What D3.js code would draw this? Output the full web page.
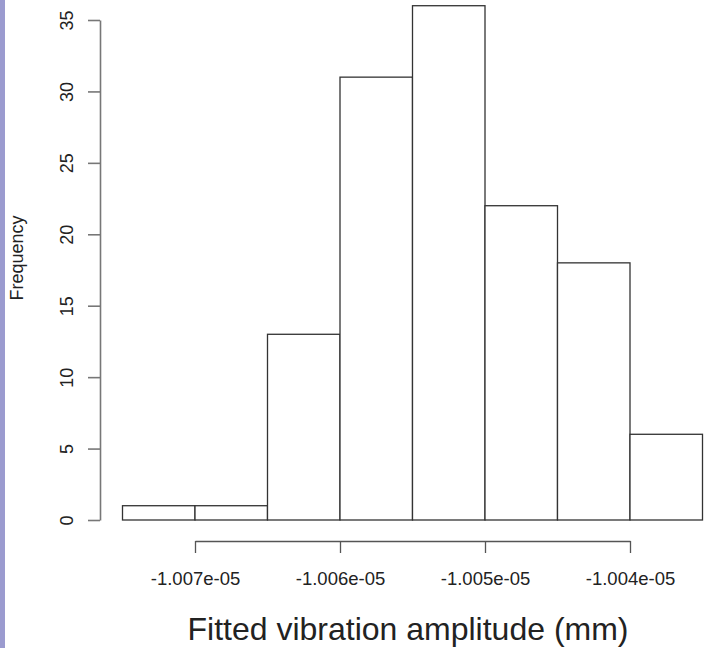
<!DOCTYPE html>
<html>
<head>
<meta charset="utf-8">
<script src="https://cdn.jsdelivr.net/npm/d3@7"></script>
<style>
  body { margin: 0; background: #fff; }
  svg { display: block; font-family: "Liberation Sans", Arial, sans-serif; }
</style>
</head>
<body>
<div class="chart"></div>
<script>
// histogram bins (edges) and counts
var breaks = [-1.0075e-5, -1.0070e-5, -1.0065e-5, -1.0060e-5, -1.0055e-5,
              -1.0050e-5, -1.0045e-5, -1.0040e-5, -1.0035e-5];
var counts = [1, 1, 13, 31, 36, 22, 18, 6];

var xTicks = [-1.007e-5, -1.006e-5, -1.005e-5, -1.004e-5];
var xTickLabels = ["-1.007e-05", "-1.006e-05", "-1.005e-05", "-1.004e-05"];
var yTicks = [0, 5, 10, 15, 20, 25, 30, 35];

var width = 704, height = 648;

var svg = d3.select(".chart")
    .append("svg")
    .attr("width", width)
    .attr("height", height);

// purple strip on the left edge
svg.append("rect")
    .attr("x", 0).attr("y", 0)
    .attr("width", 5).attr("height", height)
    .attr("fill", "#9b9bcf");

// axis spans first to last tick, bars extrapolate past it
var x = d3.scaleLinear()
    .domain([xTicks[0], xTicks[xTicks.length - 1]])
    .range([195, 630]);

var y = d3.scaleLinear()
    .domain([0, 35])
    .range([520, 20]);

var bins = counts.map(function(c, i) {
    return {x0: breaks[i], x1: breaks[i + 1], n: c};
});

svg.append("g")
    .attr("class", "bars")
    .selectAll("rect")
    .data(bins)
    .enter().append("rect")
    .attr("x", function(d) { return x(d.x0); })
    .attr("y", function(d) { return y(d.n); })
    .attr("width", function(d) { return x(d.x1) - x(d.x0); })
    .attr("height", function(d) { return y(0) - y(d.n); })
    .attr("fill", "#fff")
    .attr("stroke", "#333")
    .attr("stroke-width", 1.3);

// x axis
var xAxis = svg.append("g")
    .attr("transform", "translate(0,541)")
    .call(d3.axisBottom(x)
        .tickValues(xTicks)
        .tickFormat(function(d, i) { return xTickLabels[i]; })
        .tickSize(12)
        .tickSizeOuter(0));

xAxis.select(".domain").attr("stroke", "#555").attr("stroke-width", 1.3);
xAxis.selectAll(".tick line").attr("stroke", "#555").attr("stroke-width", 1.3);
xAxis.selectAll(".tick text")
    .attr("y", 44)
    .attr("dy", 0)
    .attr("fill", "#222")
    .style("font-size", "18.5px")
    .style("font-family", "'Liberation Sans', Arial, sans-serif");

// y axis
var yAxis = svg.append("g")
    .attr("transform", "translate(100,0)")
    .call(d3.axisLeft(y)
        .tickValues(yTicks)
        .tickSize(12)
        .tickSizeOuter(0));

yAxis.select(".domain").attr("stroke", "#777").attr("stroke-width", 1.6);
yAxis.selectAll(".tick line").attr("stroke", "#777").attr("stroke-width", 1.6);
yAxis.selectAll(".tick text")
    .attr("x", 0)
    .attr("dy", 0)
    .attr("transform", "translate(-27,0) rotate(-90)")
    .attr("text-anchor", "middle")
    .attr("fill", "#222")
    .style("font-size", "18px")
    .style("font-family", "'Liberation Sans', Arial, sans-serif");

// axis titles
svg.append("text")
    .attr("x", 408)
    .attr("y", 640)
    .attr("text-anchor", "middle")
    .attr("fill", "#222")
    .style("font-size", "32px")
    .text("Fitted vibration amplitude (mm)");

svg.append("text")
    .attr("transform", "translate(23,258) rotate(-90)")
    .attr("text-anchor", "middle")
    .attr("fill", "#222")
    .style("font-size", "18px")
    .text("Frequency");
</script>
</body>
</html>
